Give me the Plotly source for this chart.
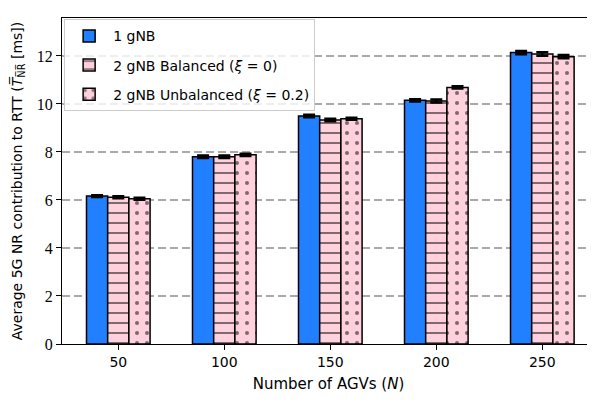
import plotly.graph_objects as go

agvs = ["50", "100", "150", "200", "250"]
one_gnb = [6.16, 7.80, 9.50, 10.15, 12.14]
balanced = [6.11, 7.80, 9.33, 10.12, 12.08]
unbalanced = [6.05, 7.88, 9.38, 10.69, 11.97]
err_one = [0.04, 0.05, 0.05, 0.05, 0.07]
err_bal = [0.04, 0.05, 0.05, 0.06, 0.07]
err_unb = [0.04, 0.05, 0.04, 0.05, 0.07]

names = ["1 gNB", "2 gNB Balanced (<i>ξ</i> = 0)", "2 gNB Unbalanced (<i>ξ</i> = 0.2)"]
BLUE = "#2080FF"
PINK = "#FFD1DC"

fig = go.Figure()
specs = [
    (one_gnb, err_one, dict(color=BLUE)),
    (balanced, err_bal, dict(color=PINK, pattern=dict(shape="-", fgcolor="black", bgcolor=PINK, size=10, solidity=0.2, fillmode="overlay"))),
    (unbalanced, err_unb, dict(color=PINK, pattern=dict(shape=".", fgcolor="black", bgcolor=PINK, size=10, solidity=0.13, fillmode="overlay"))),
]
for i, (vals, errs, mk) in enumerate(specs):
    mk = dict(mk)
    mk["line"] = dict(color="black", width=1.5)
    fig.add_trace(go.Bar(
        x=agvs, y=vals, name=names[i], marker=mk, legendgroup=f"g{i}",
        error_y=dict(type="data", array=errs, color="black", thickness=2.5, width=6),
    ))

fig.update_layout(
    width=587, height=395, autosize=False,
    margin=dict(l=54, r=0, t=10, b=59, autoexpand=False),
    paper_bgcolor="white", plot_bgcolor="white",
    barmode="group", bargap=0.4, bargroupgap=0,
    font=dict(family="DejaVu Sans", size=14, color="black"),
    showlegend=True,
    legend=dict(
        x=0.004, y=0.996, xanchor="left", yanchor="top",
        bgcolor="rgba(255,255,255,0.8)", bordercolor="#cccccc", borderwidth=1,
        font=dict(size=14), traceorder="grouped", tracegroupgap=8, itemwidth=38,
    ),
)
fig.update_xaxes(
    type="category", autorange=False,
    range=[-0.531, 4.497], showline=True, linecolor="black", linewidth=1.2, mirror=True,
    ticks="outside", ticklen=5, tickcolor="black", showgrid=False, automargin=False,
    title=dict(text="Number of AGVs (<i>N</i>)", font=dict(size=15), standoff=9),
)
fig.update_yaxes(
    range=[0, 13.58], autorange=False, showline=True, linecolor="black", linewidth=1.2,
    ticks="outside", ticklen=5, tickcolor="black", automargin=False,
    tickvals=[0, 2, 4, 6, 8, 10, 12], tickfont=dict(family="Liberation Serif", size=16),
    showgrid=True, gridcolor="#aaaaaa", griddash="8px,4px", gridwidth=1.5,
    zeroline=False,
    title=dict(text="Average 5G NR contribution to RTT (<i>T̅</i><sub>N̅R̅</sub> [ms])", font=dict(size=14), standoff=10),
)
fig.write_html("out.html")
